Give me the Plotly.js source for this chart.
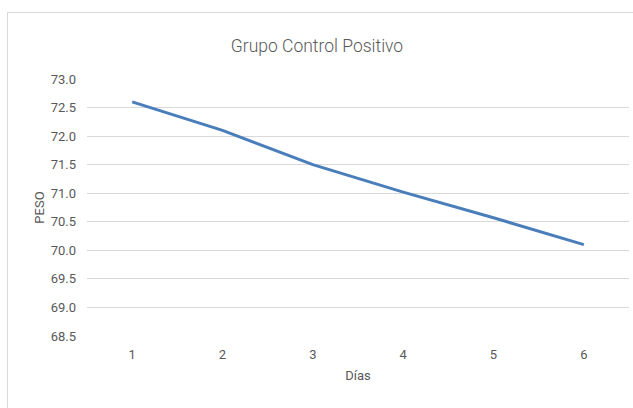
<!DOCTYPE html>
<html>
<head>
<meta charset="utf-8">
<script src="https://cdn.plot.ly/plotly-3.0.1.min.js"></script>
<style>
  html, body { margin: 0; padding: 0; background: #ffffff; overflow: hidden; }
  #chart { position: absolute; left: 0; top: 0; width: 633px; height: 408px; }
  #frame { position: absolute; left: 7px; top: 12px; width: 700px; height: 500px;
           border: 1px solid #d9d9d9; pointer-events: none; }
</style>
</head>
<body>
<div id="chart"></div>
<div id="frame"></div>
<script>
const dias = ["1", "2", "3", "4", "5", "6"];
const peso = [72.6, 72.1, 71.5, 71.02, 70.57, 70.1];
const yTicks = [68.5, 69.0, 69.5, 70.0, 70.5, 71.0, 71.5, 72.0, 72.5, 73.0];
const yTickText = ["68.5", "69.0", "69.5", "70.0", "70.5", "71.0", "71.5", "72.0", "72.5", "73.0"];

const FONT = "Roboto, 'Open Sans', sans-serif";
const GREY = "#595959";

const trace = {
  x: dias,
  y: peso,
  type: "scatter",
  mode: "lines",
  line: { color: "#4a7ebb", width: 3 },
  hoverinfo: "x+y"
};

const layout = {
  width: 633,
  height: 408,
  margin: { l: 87, r: 4, t: 79, b: 72 },
  paper_bgcolor: "rgba(0,0,0,0)",
  plot_bgcolor: "#ffffff",
  showlegend: false,
  font: { family: FONT, color: GREY, size: 13 },
  title: {
    text: "Grupo Control Positivo",
    font: { family: FONT, size: 17.5, color: GREY, weight: 300 },
    x: (317) / 633, xanchor: "center", xref: "container",
    y: 1 - 46 / 408, yanchor: "middle", yref: "container"
  },
  xaxis: {
    type: "category",
    range: [-0.5, 5.5],
    showgrid: false,
    showline: false,
    zeroline: false,
    ticks: "",
    ticklabelstandoff: 9,
    tickfont: { family: FONT, size: 13, color: GREY },
    title: { text: "Días", font: { family: FONT, size: 13, color: GREY }, standoff: 9 },
    fixedrange: true
  },
  yaxis: {
    range: [68.5, 73.0],
    tickvals: yTicks,
    ticktext: yTickText,
    showgrid: true,
    gridcolor: "#d9d9d9",
    gridwidth: 1,
    showline: false,
    zeroline: false,
    ticks: "",
    ticklabelstandoff: 10,
    tickfont: { family: FONT, size: 13, color: GREY },
    title: { text: "PESO", font: { family: FONT, size: 13, color: GREY }, standoff: 3 },
    fixedrange: true
  }
};

Plotly.newPlot("chart", [trace], layout, { displayModeBar: false, staticPlot: true });
</script>
</body>
</html>
